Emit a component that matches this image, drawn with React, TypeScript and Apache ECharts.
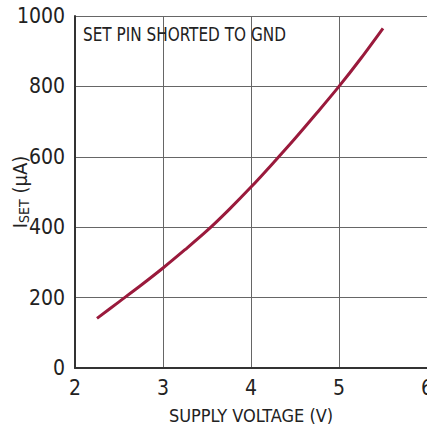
import React, { useEffect, useRef } from "react";
import * as echarts from "echarts";

const supplyVoltage = [2.25, 2.5, 2.75, 3, 3.25, 3.5, 3.75, 4, 4.25, 4.5, 4.75, 5, 5.25, 5.5];
const isetMicroAmp = [141, 188, 235, 284, 336, 390, 450, 514, 582, 652, 725, 800, 880, 965];
const xTicks = [2, 3, 4, 5, 6];
const yTicks = [0, 200, 400, 600, 800, 1000];
const annotation = "SET PIN SHORTED TO GND";

const FONT = "'Liberation Sans Narrow', 'DejaVu Sans Condensed', 'Roboto', sans-serif";

export default function App() {
  const ref = useRef<HTMLDivElement>(null);
  useEffect(() => {
    document.body.style.margin = "0";
    const chart = echarts.init(ref.current!, null, { renderer: "svg" });
    chart.setOption({
      animation: false,
      backgroundColor: "#ffffff",
      grid: { left: 75, right: 0, top: 16, bottom: 57, containLabel: false, outerBoundsMode: "none" },
      xAxis: {
        type: "value",
        min: xTicks[0],
        max: xTicks[xTicks.length - 1],
        interval: 1,
        name: "SUPPLY VOLTAGE (V)",
        nameLocation: "middle",
        nameGap: 38,
        nameMoveOverlap: false,
        nameTextStyle: { fontFamily: FONT, fontSize: 18, color: "#222" },
        axisLine: { show: true, lineStyle: { color: "#333", width: 2 } },
        axisTick: { show: false },
        axisLabel: { fontFamily: FONT, fontSize: 21, color: "#222", margin: 9, showMaxLabel: true, hideOverlap: false },
        splitLine: { show: true, lineStyle: { color: "#666", width: 1 } },
      },
      yAxis: {
        type: "value",
        min: yTicks[0],
        max: yTicks[yTicks.length - 1],
        interval: 200,
        name: "{a|I}{b|SET}{a| (µA)}",
        nameLocation: "middle",
        nameGap: 44,
        nameMoveOverlap: false,
        nameRotate: 90,
        nameTextStyle: {
          fontFamily: FONT,
          color: "#222",
          rich: {
            a: { fontFamily: FONT, fontSize: 20, color: "#222" },
            b: { fontFamily: FONT, fontSize: 14, color: "#222", verticalAlign: "bottom", padding: [9, 0, 0, 0] },
          },
        },
        axisLine: { show: true, lineStyle: { color: "#333", width: 2 } },
        axisTick: { show: false },
        axisLabel: {
          fontFamily: FONT,
          fontSize: 21,
          color: "#222",
          margin: 10,
          formatter: (v: number) => String(v),
        },
        splitLine: { show: true, lineStyle: { color: "#666", width: 1 } },
      },
      graphic: [
        {
          type: "text",
          x: 83,
          y: 24,
          scaleX: 1,
          scaleY: 1.15,
          style: { text: annotation, fontFamily: FONT, fontSize: 17, fill: "#222", textVerticalAlign: "top" },
          z: 10,
        },
      ],
      series: [
        {
          type: "line",
          data: supplyVoltage.map((v, i) => [v, isetMicroAmp[i]]),
          smooth: 0.3,
          showSymbol: false,
          lineStyle: { color: "#9a1a3c", width: 3 },
        },
      ],
    });
    return () => chart.dispose();
  }, []);
  return <div ref={ref} style={{ width: 427, height: 425, position: "absolute", left: 0, top: 0 }} />;
}
